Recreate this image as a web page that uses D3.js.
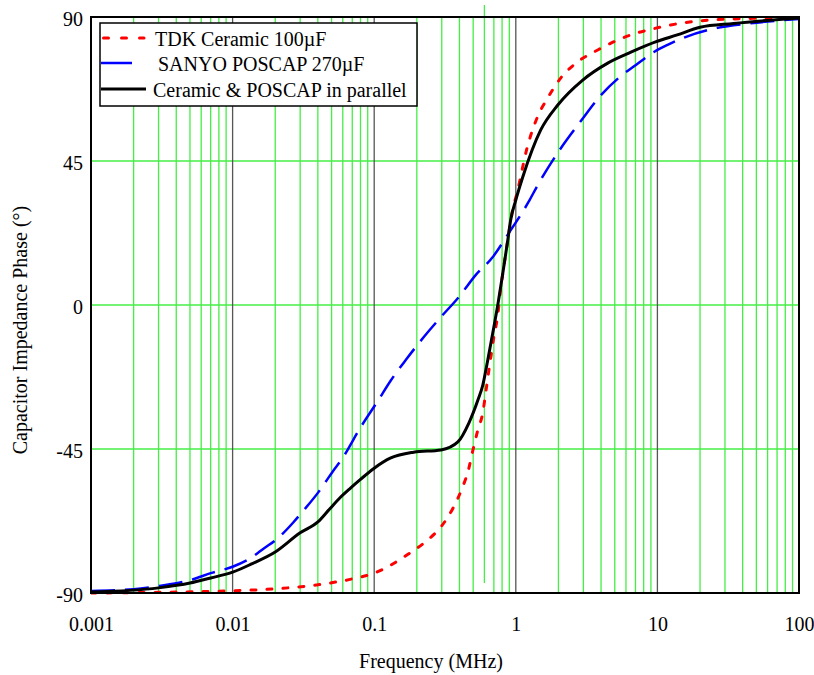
<!DOCTYPE html>
<html>
<head>
<meta charset="utf-8">
<script src="https://cdn.jsdelivr.net/npm/d3@7"></script>
<style>
  body { margin: 0; background: #fff; }
  svg text { font-family: "Liberation Serif", "Times New Roman", serif; fill: #000; }
</style>
</head>
<body>
<div id="chart"></div>
<script>
// phase vs frequency (MHz, degrees)
var tdk_freq = [0.001, 0.003, 0.01, 0.02, 0.05, 0.07, 0.1, 0.172, 0.23, 0.3, 0.36, 0.42, 0.46, 0.5, 0.54, 0.585, 0.614, 0.666, 0.70, 0.746, 0.78, 0.823, 0.878, 0.95, 1.02, 1.2, 1.43, 1.68, 2.08, 2.74, 3.79, 5.25, 6.8, 9.3, 12.4, 20, 50, 100];
var tdk_phase = [-90, -89.8, -89.3, -88.7, -86.8, -85.6, -83.8, -78, -74, -69, -63.5, -57, -52, -45, -39, -33.6, -27.2, -16.3, -10, -3.1, 4.7, 12, 20.3, 29.7, 35, 49, 59, 64.7, 71, 76, 79.7, 82.8, 84.7, 86.3, 87.5, 88.8, 89.6, 89.8];

var poscap_freq = [0.001, 0.002, 0.003, 0.005, 0.007, 0.01, 0.0135, 0.0167, 0.0202, 0.027, 0.031, 0.0405, 0.045, 0.051, 0.0586, 0.08, 0.106, 0.131, 0.167, 0.224, 0.296, 0.396, 0.522, 0.688, 0.878, 1.23, 1.43, 2.08, 2.88, 3.98, 5.5, 6.8, 9.4, 11.8, 15.3, 26.6, 45, 100];
var poscap_phase = [-89.4, -88.8, -87.8, -86, -83.8, -81.8, -79, -76, -73.4, -67.8, -64.7, -58.4, -55.5, -52, -48.4, -38.3, -30, -23.6, -17.2, -10, -3.75, 2.5, 9.4, 15, 22, 32.2, 37.5, 49, 57.5, 65.5, 71.5, 74.5, 79, 81.3, 83.5, 86.6, 88, 89.4];

var par_freq = [0.001, 0.003, 0.005, 0.007, 0.01, 0.0135, 0.02, 0.03, 0.04, 0.049, 0.058, 0.068, 0.08, 0.1, 0.131, 0.19, 0.296, 0.39, 0.466, 0.54, 0.585, 0.634, 0.70, 0.746, 0.81, 0.878, 0.92, 1.0, 1.12, 1.5, 1.98, 2.97, 4.46, 6.5, 9.7, 13.8, 20, 34.5, 100];
var par_phase = [-89.7, -88.4, -86.9, -85.3, -83.5, -81, -77.2, -71.2, -67.8, -63.5, -60, -57.2, -54.5, -51, -47.8, -46, -45.3, -42.8, -36.9, -29.7, -25, -17.2, -6.9, 0, 10, 20.3, 26.6, 32.8, 40, 54.7, 62.5, 70.3, 75.6, 79, 82.2, 84.4, 86.8, 88, 89.7];

var x_ticks = [0.001, 0.01, 0.1, 1, 10, 100];
var x_tick_labels = ["0.001", "0.01", "0.1", "1", "10", "100"];
var y_ticks = [-90, -45, 0, 45, 90];

var series_names = ["TDK Ceramic 100\u00b5F", " SANYO POSCAP 270\u00b5F", "Ceramic & POSCAP in parallel"];

var width = 814, height = 675;
var p_left = 91, p_right = 799, p_top = 17, p_bottom = 593;

var svg = d3.select("#chart").append("svg")
  .attr("width", width)
  .attr("height", height);

var xScale = d3.scaleLog().domain([0.001, 100]).range([p_left, p_right]);
var yScale = d3.scaleLinear().domain([-90, 90]).range([p_bottom, p_top]);

// minor vertical grid (2..9 in each decade)
var minors = [];
for (var e = -3; e < 2; e++) {
  for (var m = 2; m <= 9; m++) {
    minors.push(m * Math.pow(10, e));
  }
}

// the 0.6 MHz line sticks out above the frame in the original
function isOddLine(d) { return Math.abs(d - 0.6) < 1e-9; }

svg.append("g").selectAll("line").data(minors).enter()
  .append("line")
  .attr("x1", function(d) { return xScale(d); })
  .attr("x2", function(d) { return xScale(d); })
  .attr("y1", function(d) { return isOddLine(d) ? p_top - 12 : p_top; })
  .attr("y2", function(d) { return isOddLine(d) ? p_bottom - 10 : p_bottom; })
  .attr("stroke", "#44ee44")
  .attr("stroke-width", 1.3);

// horizontal grid
svg.append("g").selectAll("line").data([-45, 0, 45]).enter()
  .append("line")
  .attr("x1", p_left).attr("x2", p_right)
  .attr("y1", function(d) { return yScale(d); })
  .attr("y2", function(d) { return yScale(d); })
  .attr("stroke", "#44ee44")
  .attr("stroke-width", 1.3);

// decade lines
svg.append("g").selectAll("line").data([0.01, 0.1, 1, 10]).enter()
  .append("line")
  .attr("x1", function(d) { return xScale(d); })
  .attr("x2", function(d) { return xScale(d); })
  .attr("y1", p_top).attr("y2", p_bottom)
  .attr("stroke", "#555")
  .attr("stroke-width", 1.3);

// axes, labels only
var xAxis = d3.axisBottom(xScale).tickValues(x_ticks)
  .tickFormat(function(d, i) { return x_tick_labels[i]; })
  .tickSize(0).tickPadding(24);
var yAxis = d3.axisLeft(yScale).tickValues(y_ticks)
  .tickFormat(function(d) { return String(d); })
  .tickSize(0).tickPadding(8);

var gx = svg.append("g").attr("transform", "translate(0," + p_bottom + ")").call(xAxis);
var gy = svg.append("g").attr("transform", "translate(" + p_left + ",0)").call(yAxis);
[gx, gy].forEach(function(g) {
  g.select(".domain").remove();
  g.selectAll("text").style("font-size", "20px").attr("fill", "#000")
    .style("font-family", '"Liberation Serif", "Times New Roman", serif');
});
gy.selectAll("text").attr("dy", "0.42em");

// curves
var line = d3.line()
  .x(function(d) { return xScale(d[0]); })
  .y(function(d) { return yScale(d[1]); })
  .curve(d3.curveMonotoneX);

function pairs(f, p) {
  return f.map(function(v, i) { return [v, p[i]]; });
}

var styles = [
  { color: "#ff0000", width: 3, dash: "5,11", cap: "round" },
  { color: "#0000ff", width: 2.5, dash: "24,10", cap: "butt" },
  { color: "#000000", width: 3, dash: null, cap: "butt" }
];

var allData = [
  pairs(tdk_freq, tdk_phase),
  pairs(poscap_freq, poscap_phase),
  pairs(par_freq, par_phase)
];

svg.append("clipPath").attr("id", "plotclip")
  .append("rect").attr("x", p_left).attr("y", p_top - 2)
  .attr("width", p_right - p_left).attr("height", p_bottom - p_top + 4);

allData.forEach(function(d, i) {
  svg.append("path")
    .datum(d)
    .attr("d", line)
    .attr("fill", "none")
    .attr("clip-path", "url(#plotclip)")
    .attr("stroke", styles[i].color)
    .attr("stroke-width", styles[i].width)
    .attr("stroke-dasharray", styles[i].dash)
    .attr("stroke-linecap", styles[i].cap);
});

// plot frame
svg.append("rect")
  .attr("x", p_left).attr("y", p_top)
  .attr("width", p_right - p_left).attr("height", p_bottom - p_top)
  .attr("fill", "none").attr("stroke", "#000").attr("stroke-width", 2);

// legend
var legend = svg.append("g").attr("transform", "translate(100,23)");
legend.append("rect")
  .attr("width", 317).attr("height", 83)
  .attr("fill", "#fff").attr("stroke", "#000").attr("stroke-width", 1.5);

var rowY = [15, 40, 66];
var sampleEnd = [44, 32, 46];
var textX = [55, 53, 53];
series_names.forEach(function(name, i) {
  legend.append("line")
    .attr("x1", i === 0 ? 3.5 : 1).attr("x2", sampleEnd[i])
    .attr("y1", rowY[i]).attr("y2", rowY[i])
    .attr("stroke", styles[i].color)
    .attr("stroke-width", styles[i].width)
    .attr("stroke-linecap", styles[i].cap)
    .attr("stroke-dasharray", i === 0 ? "5,13" : null);
  legend.append("text")
    .attr("x", textX[i])
    .attr("y", rowY[i] + 1)
    .attr("dy", "0.35em")
    .style("font-size", "20px")
    .style("white-space", "pre")
    .attr("xml:space", "preserve")
    .text(name);
});

// axis titles
svg.append("text")
  .attr("x", 431).attr("y", 668)
  .attr("text-anchor", "middle")
  .style("font-size", "20px")
  .text("Frequency (MHz)");

svg.append("text")
  .attr("transform", "translate(27,330)rotate(-90)")
  .attr("text-anchor", "middle")
  .style("font-size", "20px")
  .text("Capacitor Impedance Phase (\u00b0)");
</script>
</body>
</html>
